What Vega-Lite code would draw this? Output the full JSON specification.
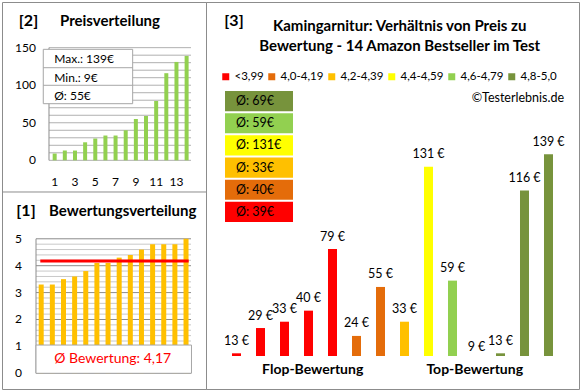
{
  "$schema": "https://vega.github.io/schema/vega-lite/v6.json",
  "background": "white",
  "padding": {"left": 1, "top": 1, "right": 0, "bottom": 0},
  "spacing": 0,
  "bounds": "flush",
  "config": {
    "font": "Lato",
    "view": {"stroke": "#8c8c8c", "strokeWidth": 1},
    "text": {"color": "#000000"}
  },
  "datasets": {
    "preise": [
      {"nr": 1, "preis": 9}, {"nr": 2, "preis": 13}, {"nr": 3, "preis": 13}, {"nr": 4, "preis": 24},
      {"nr": 5, "preis": 29}, {"nr": 6, "preis": 33}, {"nr": 7, "preis": 33}, {"nr": 8, "preis": 40},
      {"nr": 9, "preis": 55}, {"nr": 10, "preis": 59}, {"nr": 11, "preis": 79}, {"nr": 12, "preis": 116},
      {"nr": 13, "preis": 131}, {"nr": 14, "preis": 139}
    ],
    "bewertungen": [
      {"nr": 1, "bewertung": 3.3}, {"nr": 2, "bewertung": 3.3}, {"nr": 3, "bewertung": 3.5}, {"nr": 4, "bewertung": 3.6},
      {"nr": 5, "bewertung": 3.8}, {"nr": 6, "bewertung": 4.1}, {"nr": 7, "bewertung": 4.1}, {"nr": 8, "bewertung": 4.3},
      {"nr": 9, "bewertung": 4.4}, {"nr": 10, "bewertung": 4.6}, {"nr": 11, "bewertung": 4.8}, {"nr": 12, "bewertung": 4.8},
      {"nr": 13, "bewertung": 4.8}, {"nr": 14, "bewertung": 5.0}
    ],
    "produkte": [
      {"nr": 1, "preis": 13, "klasse": "<3,99"}, {"nr": 2, "preis": 29, "klasse": "<3,99"},
      {"nr": 3, "preis": 33, "klasse": "<3,99"}, {"nr": 4, "preis": 40, "klasse": "<3,99"},
      {"nr": 5, "preis": 79, "klasse": "<3,99"}, {"nr": 6, "preis": 24, "klasse": "4,0-4,19"},
      {"nr": 7, "preis": 55, "klasse": "4,0-4,19"}, {"nr": 8, "preis": 33, "klasse": "4,2-4,39"},
      {"nr": 9, "preis": 131, "klasse": "4,4-4,59"}, {"nr": 10, "preis": 59, "klasse": "4,6-4,79"},
      {"nr": 11, "preis": 9, "klasse": "4,8-5,0"}, {"nr": 12, "preis": 13, "klasse": "4,8-5,0"},
      {"nr": 13, "preis": 116, "klasse": "4,8-5,0"}, {"nr": 14, "preis": 139, "klasse": "4,8-5,0"}
    ],
    "raster2": [
      {"wert": 0}, {"wert": 10}, {"wert": 20}, {"wert": 30}, {"wert": 40}, {"wert": 50}, {"wert": 60}, {"wert": 70},
      {"wert": 80}, {"wert": 90}, {"wert": 100}, {"wert": 110}, {"wert": 120}, {"wert": 130}, {"wert": 140}, {"wert": 150}
    ],
    "raster1fein": [
      {"wert": 0.2}, {"wert": 0.4}, {"wert": 0.6}, {"wert": 0.8}, {"wert": 1.2}, {"wert": 1.4}, {"wert": 1.6}, {"wert": 1.8},
      {"wert": 2.2}, {"wert": 2.4}, {"wert": 2.6}, {"wert": 2.8}, {"wert": 3.2}, {"wert": 3.4}, {"wert": 3.6}, {"wert": 3.8},
      {"wert": 4.2}, {"wert": 4.4}, {"wert": 4.6}, {"wert": 4.8}
    ],
    "raster1grob": [
      {"wert": 0}, {"wert": 1}, {"wert": 2}, {"wert": 3}, {"wert": 4}, {"wert": 5}
    ]
  },
  "hconcat": [
    {
      "width": 204,
      "height": 387,
      "resolve": {"scale": {"x": "independent", "y": "independent"}},
      "layer": [
        {
          "layer": [
            {
              "data": {"name": "raster2"},
              "mark": {"type": "rule", "color": "#b0b0b0"},
              "encoding": {
                "y": {"field": "wert", "type": "quantitative", "scale": {"domain": [-304.5, 210.8], "nice": false, "zero": false}, "axis": null},
                "x": {"datum": 0.44, "type": "quantitative", "scale": {"domain": [-4.19, 15.91], "nice": false, "zero": false, "padding": 0}, "axis": null},
                "x2": {"datum": 14.43}
              }
            },
            {
              "data": {"name": "raster2"},
              "transform": [{"filter": "datum.wert % 50 == 0"}],
              "mark": {"type": "text", "align": "right", "baseline": "middle", "fontSize": 12},
              "encoding": {
                "y": {"field": "wert", "type": "quantitative", "scale": {"domain": [-304.5, 210.8], "nice": false, "zero": false}, "axis": null},
                "x": {"datum": -0.842, "type": "quantitative", "scale": {"domain": [-4.19, 15.91], "nice": false, "zero": false, "padding": 0}, "axis": null},
                "text": {"field": "wert"}
              }
            },
            {
              "data": {"values": [{}]},
              "mark": {"type": "rule", "color": "#8c8c8c"},
              "encoding": {
                "x": {"datum": 0.44, "type": "quantitative", "scale": {"domain": [-4.19, 15.91], "nice": false, "zero": false, "padding": 0}, "axis": null},
                "y": {"datum": 0, "type": "quantitative", "scale": {"domain": [-304.5, 210.8], "nice": false, "zero": false}, "axis": null},
                "y2": {"datum": 150}
              }
            },
            {
              "data": {"name": "preise"},
              "mark": {"type": "bar", "size": 4, "color": "#92D050", "orient": "vertical"},
              "encoding": {
                "x": {"field": "nr", "type": "quantitative", "scale": {"domain": [-4.19, 15.91], "nice": false, "zero": false, "padding": 0}, "axis": null},
                "y": {"field": "preis", "type": "quantitative", "scale": {"domain": [-304.5, 210.8], "nice": false, "zero": false}, "axis": null},
                "y2": {"datum": 0}
              }
            },
            {
              "data": {"name": "preise"},
              "transform": [{"filter": "datum.nr % 2 == 1"}],
              "mark": {"type": "text", "align": "center", "baseline": "middle", "fontSize": 12},
              "encoding": {
                "x": {"field": "nr", "type": "quantitative", "scale": {"domain": [-4.19, 15.91], "nice": false, "zero": false, "padding": 0}, "axis": null},
                "y": {"datum": -28.9, "type": "quantitative", "scale": {"domain": [-304.5, 210.8], "nice": false, "zero": false}, "axis": null},
                "text": {"field": "nr"}
              }
            },
            {
              "data": {"values": [{}]},
              "mark": {"type": "rect", "fill": "white", "stroke": "#a6a6a6", "strokeWidth": 1},
              "encoding": {
                "x": {"datum": -0.123, "type": "quantitative", "scale": {"domain": [-4.19, 15.91], "nice": false, "zero": false, "padding": 0}, "axis": null},
                "x2": {"datum": 8.685},
                "y": {"datum": 75.4, "type": "quantitative", "scale": {"domain": [-304.5, 210.8], "nice": false, "zero": false}, "axis": null},
                "y2": {"datum": 147.8}
              }
            },
            {
              "data": {"values": [{}]},
              "mark": {"type": "rule", "color": "#a6a6a6"},
              "encoding": {
                "x": {"datum": -0.123, "type": "quantitative", "scale": {"domain": [-4.19, 15.91], "nice": false, "zero": false, "padding": 0}, "axis": null},
                "x2": {"datum": 8.685},
                "y": {"datum": 99.9, "type": "quantitative", "scale": {"domain": [-304.5, 210.8], "nice": false, "zero": false}, "axis": null}
              }
            },
            {
              "data": {"values": [{}]},
              "mark": {"type": "rule", "color": "#a6a6a6"},
              "encoding": {
                "x": {"datum": -0.123, "type": "quantitative", "scale": {"domain": [-4.19, 15.91], "nice": false, "zero": false, "padding": 0}, "axis": null},
                "x2": {"datum": 8.685},
                "y": {"datum": 123.3, "type": "quantitative", "scale": {"domain": [-304.5, 210.8], "nice": false, "zero": false}, "axis": null}
              }
            },
            {
              "data": {"values": [{}]},
              "mark": {"type": "text", "text": ["Max.: 139€", "Min.: 9€", "Ø: 55€"], "align": "left", "baseline": "middle", "lineHeight": 18.4, "fontSize": 12},
              "encoding": {
                "x": {"datum": 0.96, "type": "quantitative", "scale": {"domain": [-4.19, 15.91], "nice": false, "zero": false, "padding": 0}, "axis": null},
                "y": {"datum": 134.5, "type": "quantitative", "scale": {"domain": [-304.5, 210.8], "nice": false, "zero": false}, "axis": null}
              }
            },
            {
              "data": {"values": [{}]},
              "mark": {"type": "text", "text": "[2]", "align": "center", "baseline": "middle", "fontSize": 16, "fontWeight": "bold"},
              "encoding": {
                "x": {"datum": -1.58, "type": "quantitative", "scale": {"domain": [-4.19, 15.91], "nice": false, "zero": false, "padding": 0}, "axis": null},
                "y": {"datum": 185.5, "type": "quantitative", "scale": {"domain": [-304.5, 210.8], "nice": false, "zero": false}, "axis": null}
              }
            },
            {
              "data": {"values": [{}]},
              "mark": {"type": "text", "text": "Preisverteilung", "align": "center", "baseline": "middle", "fontSize": 15, "fontWeight": "bold"},
              "encoding": {
                "x": {"datum": 6.45, "type": "quantitative", "scale": {"domain": [-4.19, 15.91], "nice": false, "zero": false, "padding": 0}, "axis": null},
                "y": {"datum": 185.5, "type": "quantitative", "scale": {"domain": [-304.5, 210.8], "nice": false, "zero": false}, "axis": null}
              }
            }
          ]
        },
        {
          "layer": [
            {
              "data": {"values": [{}]},
              "mark": {"type": "rule", "color": "#8c8c8c"},
              "encoding": {
                "y": {"datum": 6.74, "type": "quantitative", "scale": {"domain": [-0.584, 13.803], "nice": false, "zero": false}, "axis": null},
                "x": {"datum": -2.519, "type": "quantitative", "scale": {"domain": [-2.519, 15.793], "nice": false, "zero": false, "padding": 0}, "axis": null},
                "x2": {"datum": 15.793}
              }
            },
            {
              "data": {"name": "raster1fein"},
              "mark": {"type": "rule", "color": "#c8c8c8"},
              "encoding": {
                "y": {"field": "wert", "type": "quantitative", "scale": {"domain": [-0.584, 13.803], "nice": false, "zero": false}, "axis": null},
                "x": {"datum": 0.533, "type": "quantitative", "scale": {"domain": [-2.519, 15.793], "nice": false, "zero": false, "padding": 0}, "axis": null},
                "x2": {"datum": 14.447}
              }
            },
            {
              "data": {"name": "raster1grob"},
              "mark": {"type": "rule", "color": "#8c8c8c"},
              "encoding": {
                "y": {"field": "wert", "type": "quantitative", "scale": {"domain": [-0.584, 13.803], "nice": false, "zero": false}, "axis": null},
                "x": {"datum": 0.533, "type": "quantitative", "scale": {"domain": [-2.519, 15.793], "nice": false, "zero": false, "padding": 0}, "axis": null},
                "x2": {"datum": 14.447}
              }
            },
            {
              "data": {"name": "raster1grob"},
              "mark": {"type": "text", "align": "right", "baseline": "middle", "fontSize": 12},
              "encoding": {
                "y": {"field": "wert", "type": "quantitative", "scale": {"domain": [-0.584, 13.803], "nice": false, "zero": false}, "axis": null},
                "x": {"datum": -0.724, "type": "quantitative", "scale": {"domain": [-2.519, 15.793], "nice": false, "zero": false, "padding": 0}, "axis": null},
                "text": {"field": "wert"}
              }
            },
            {
              "data": {"values": [{}]},
              "mark": {"type": "rule", "color": "#8c8c8c"},
              "encoding": {
                "x": {"datum": 0.533, "type": "quantitative", "scale": {"domain": [-2.519, 15.793], "nice": false, "zero": false, "padding": 0}, "axis": null},
                "y": {"datum": 0, "type": "quantitative", "scale": {"domain": [-0.584, 13.803], "nice": false, "zero": false}, "axis": null},
                "y2": {"datum": 5}
              }
            },
            {
              "data": {"name": "bewertungen"},
              "mark": {"type": "bar", "size": 5, "color": "#FFC000", "orient": "vertical"},
              "encoding": {
                "x": {"field": "nr", "type": "quantitative", "scale": {"domain": [-2.519, 15.793], "nice": false, "zero": false, "padding": 0}, "axis": null},
                "y": {"field": "bewertung", "type": "quantitative", "scale": {"domain": [-0.584, 13.803], "nice": false, "zero": false}, "axis": null},
                "y2": {"datum": 0}
              }
            },
            {
              "data": {"name": "bewertungen"},
              "mark": {"type": "rule", "color": "#FF0000", "strokeWidth": 3},
              "encoding": {
                "x": {"datum": 0.919, "type": "quantitative", "scale": {"domain": [-2.519, 15.793], "nice": false, "zero": false, "padding": 0}, "axis": null},
                "x2": {"datum": 14.24},
                "y": {"aggregate": "mean", "field": "bewertung", "type": "quantitative", "scale": {"domain": [-0.584, 13.803], "nice": false, "zero": false}, "axis": null}
              }
            },
            {
              "data": {"values": [{}]},
              "mark": {"type": "rect", "fill": "white", "stroke": "#a6a6a6", "strokeWidth": 1},
              "encoding": {
                "x": {"datum": 0.533, "type": "quantitative", "scale": {"domain": [-2.519, 15.793], "nice": false, "zero": false, "padding": 0}, "axis": null},
                "x2": {"datum": 14.49},
                "y": {"datum": 0, "type": "quantitative", "scale": {"domain": [-0.584, 13.803], "nice": false, "zero": false}, "axis": null},
                "y2": {"datum": 1.05}
              }
            },
            {
              "data": {"values": [{}]},
              "mark": {"type": "text", "text": "Ø Bewertung: 4,17", "align": "center", "baseline": "middle", "fontSize": 14, "color": "#FF0000"},
              "encoding": {
                "x": {"datum": 7.418, "type": "quantitative", "scale": {"domain": [-2.519, 15.793], "nice": false, "zero": false, "padding": 0}, "axis": null},
                "y": {"datum": 0.52, "type": "quantitative", "scale": {"domain": [-0.584, 13.803], "nice": false, "zero": false}, "axis": null}
              }
            },
            {
              "data": {"values": [{}]},
              "mark": {"type": "text", "text": "[1]", "align": "center", "baseline": "middle", "fontSize": 16, "fontWeight": "bold"},
              "encoding": {
                "x": {"datum": -0.364, "type": "quantitative", "scale": {"domain": [-2.519, 15.793], "nice": false, "zero": false, "padding": 0}, "axis": null},
                "y": {"datum": 6.034, "type": "quantitative", "scale": {"domain": [-0.584, 13.803], "nice": false, "zero": false}, "axis": null}
              }
            },
            {
              "data": {"values": [{}]},
              "mark": {"type": "text", "text": "Bewertungsverteilung", "align": "center", "baseline": "middle", "fontSize": 15, "fontWeight": "bold"},
              "encoding": {
                "x": {"datum": 8.316, "type": "quantitative", "scale": {"domain": [-2.519, 15.793], "nice": false, "zero": false, "padding": 0}, "axis": null},
                "y": {"datum": 6.034, "type": "quantitative", "scale": {"domain": [-0.584, 13.803], "nice": false, "zero": false}, "axis": null}
              }
            }
          ]
        }
      ]
    },
    {
      "width": 373,
      "height": 387,
      "resolve": {"scale": {"y": "independent"}},
      "layer": [
        {
          "layer": [
            {
              "data": {"name": "produkte"},
              "transform": [{"filter": "datum.preis > 11.3"}],
              "mark": {"type": "bar", "size": 9, "orient": "vertical"},
              "encoding": {
                "x": {"field": "nr", "type": "quantitative", "scale": {"domain": [-0.271, 15.271], "nice": false, "zero": false, "padding": 0}, "axis": null},
                "y": {"field": "preis", "type": "quantitative", "scale": {"domain": [-9.59, 235.35], "nice": false, "zero": false}, "axis": null},
                "y2": {"datum": 11.3},
                "color": {"field": "klasse", "type": "nominal",
                  "scale": {"domain": ["<3,99", "4,0-4,19", "4,2-4,39", "4,4-4,59", "4,6-4,79", "4,8-5,0"], "range": ["#FF0000", "#E46C0A", "#FFC000", "#FFFF00", "#92D050", "#77933C"]},
                  "legend": {"orient": "none", "legendX": 218, "legendY": 69, "direction": "horizontal", "gridAlign": "none", "title": null, "symbolType": "square", "symbolSize": 49, "symbolStrokeWidth": 0, "labelFontSize": 11.5, "labelOffset": 3, "columnPadding": 2, "padding": 0, "labelColor": "#000000", "labelFont": "Lato"}}
              }
            },
            {
              "data": {"name": "produkte"},
              "transform": [{"calculate": "datum.preis + ' €'", "as": "beschriftung"}],
              "mark": {"type": "text", "align": "center", "baseline": "middle", "dy": -12.5, "fontSize": 12.5},
              "encoding": {
                "x": {"field": "nr", "type": "quantitative", "scale": {"domain": [-0.271, 15.271], "nice": false, "zero": false, "padding": 0}, "axis": null},
                "y": {"field": "preis", "type": "quantitative", "scale": {"domain": [-9.59, 235.35], "nice": false, "zero": false}, "axis": null},
                "text": {"field": "beschriftung"}
              }
            },
            {
              "data": {"values": [{}]},
              "mark": {"type": "text", "text": ["Kamingarnitur: Verhältnis von Preis zu", "Bewertung - 14 Amazon Bestseller im Test"], "align": "center", "baseline": "middle", "lineHeight": 20, "fontSize": 15, "fontWeight": "bold"},
              "encoding": {
                "x": {"datum": 7.8, "type": "quantitative", "scale": {"domain": [-0.271, 15.271], "nice": false, "zero": false, "padding": 0}, "axis": null},
                "y": {"datum": 220.2, "type": "quantitative", "scale": {"domain": [-9.59, 235.35], "nice": false, "zero": false}, "axis": null}
              }
            },
            {
              "data": {"values": [{}]},
              "mark": {"type": "text", "text": "[3]", "align": "center", "baseline": "middle", "fontSize": 16, "fontWeight": "bold"},
              "encoding": {
                "x": {"datum": 0.896, "type": "quantitative", "scale": {"domain": [-0.271, 15.271], "nice": false, "zero": false, "padding": 0}, "axis": null},
                "y": {"datum": 223.3, "type": "quantitative", "scale": {"domain": [-9.59, 235.35], "nice": false, "zero": false}, "axis": null}
              }
            },
            {
              "data": {"values": [{}]},
              "mark": {"type": "text", "text": "©Testerlebnis.de", "align": "right", "baseline": "middle", "fontSize": 12.5},
              "encoding": {
                "x": {"datum": 14.646, "type": "quantitative", "scale": {"domain": [-0.271, 15.271], "nice": false, "zero": false, "padding": 0}, "axis": null},
                "y": {"datum": 174.6, "type": "quantitative", "scale": {"domain": [-9.59, 235.35], "nice": false, "zero": false}, "axis": null}
              }
            },
            {
              "data": {"values": [{}]},
              "mark": {"type": "text", "text": "Flop-Bewertung", "align": "center", "baseline": "middle", "fontSize": 14, "fontWeight": "bold"},
              "encoding": {
                "x": {"datum": 4.175, "type": "quantitative", "scale": {"domain": [-0.271, 15.271], "nice": false, "zero": false, "padding": 0}, "axis": null},
                "y": {"datum": 2.44, "type": "quantitative", "scale": {"domain": [-9.59, 235.35], "nice": false, "zero": false}, "axis": null}
              }
            },
            {
              "data": {"values": [{}]},
              "mark": {"type": "text", "text": "Top-Bewertung", "align": "center", "baseline": "middle", "fontSize": 14, "fontWeight": "bold"},
              "encoding": {
                "x": {"datum": 10.925, "type": "quantitative", "scale": {"domain": [-0.271, 15.271], "nice": false, "zero": false, "padding": 0}, "axis": null},
                "y": {"datum": 2.44, "type": "quantitative", "scale": {"domain": [-9.59, 235.35], "nice": false, "zero": false}, "axis": null}
              }
            }
          ]
        },
        {
          "data": {"name": "produkte"},
          "transform": [
            {"aggregate": [{"op": "mean", "field": "preis", "as": "schnitt"}], "groupby": ["klasse"]},
            {"calculate": "'Ø: ' + round(datum.schnitt) + '€'", "as": "beschriftung"}
          ],
          "layer": [
            {
              "mark": {"type": "rect"},
              "encoding": {
                "x": {"datum": 0.521, "type": "quantitative", "scale": {"domain": [-0.271, 15.271], "nice": false, "zero": false, "padding": 0}, "axis": null},
                "x2": {"datum": 3.354},
                "y": {"field": "klasse", "type": "nominal", "axis": null,
                  "scale": {"domain": ["4,8-5,0", "4,6-4,79", "4,4-4,59", "4,2-4,39", "4,0-4,19", "<3,99"], "range": [89, 220], "paddingInner": 0.09, "paddingOuter": 0, "round": false}},
                "color": {"field": "klasse", "type": "nominal",
                  "scale": {"domain": ["<3,99", "4,0-4,19", "4,2-4,39", "4,4-4,59", "4,6-4,79", "4,8-5,0"], "range": ["#FF0000", "#E46C0A", "#FFC000", "#FFFF00", "#92D050", "#77933C"]},
                  "legend": null}
              }
            },
            {
              "mark": {"type": "text", "align": "left", "baseline": "middle", "fontSize": 12.5},
              "encoding": {
                "x": {"datum": 0.98, "type": "quantitative", "scale": {"domain": [-0.271, 15.271], "nice": false, "zero": false, "padding": 0}, "axis": null},
                "y": {"field": "klasse", "type": "nominal", "axis": null,
                  "scale": {"domain": ["4,8-5,0", "4,6-4,79", "4,4-4,59", "4,2-4,39", "4,0-4,19", "<3,99"], "range": [89, 220], "paddingInner": 0.09, "paddingOuter": 0, "round": false}},
                "text": {"field": "beschriftung"}
              }
            }
          ]
        }
      ]
    }
  ]
}
